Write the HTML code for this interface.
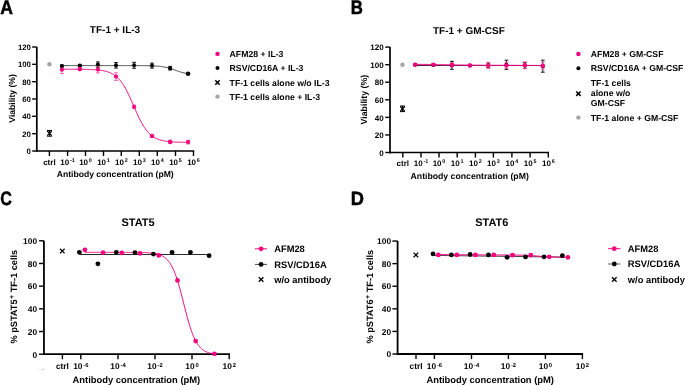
<!DOCTYPE html>
<html><head><meta charset="utf-8"><style>
html,body{margin:0;padding:0;background:#fff;}
body{width:685px;height:385px;overflow:hidden;}
svg{display:block;will-change:transform;}
text{font-family:'Liberation Sans',sans-serif;font-weight:bold;fill:#000;text-rendering:geometricPrecision;}
</style></head><body>
<svg width="685" height="385" viewBox="0 0 685 385">
<rect width="685" height="385" fill="#fff"/>
<text x="0" y="0" font-size="19.5" transform="translate(0.2,13.5) scale(0.9,1)" stroke="#000" stroke-width="0.5">A</text>
<text x="115.00" y="33.30" font-size="10" text-anchor="middle" >TF-1 + IL-3</text>
<line x1="36.80" y1="46.90" x2="36.80" y2="151.85" stroke="#000" stroke-width="1.7" />
<line x1="35.95" y1="151.00" x2="194.20" y2="151.00" stroke="#000" stroke-width="1.7" />
<line x1="32.15" y1="151.00" x2="36.80" y2="151.00" stroke="#000" stroke-width="1.4" />
<text x="30.95" y="154.29" font-size="7.8" text-anchor="end" >0</text>
<line x1="32.15" y1="133.67" x2="36.80" y2="133.67" stroke="#000" stroke-width="1.4" />
<text x="30.95" y="136.88" font-size="7.8" text-anchor="end" >20</text>
<line x1="32.15" y1="116.33" x2="36.80" y2="116.33" stroke="#000" stroke-width="1.4" />
<text x="30.95" y="119.46" font-size="7.8" text-anchor="end" >40</text>
<line x1="32.15" y1="99.00" x2="36.80" y2="99.00" stroke="#000" stroke-width="1.4" />
<text x="30.95" y="102.04" font-size="7.8" text-anchor="end" >60</text>
<line x1="32.15" y1="81.67" x2="36.80" y2="81.67" stroke="#000" stroke-width="1.4" />
<text x="30.95" y="84.63" font-size="7.8" text-anchor="end" >80</text>
<line x1="32.15" y1="64.33" x2="36.80" y2="64.33" stroke="#000" stroke-width="1.4" />
<text x="30.95" y="67.21" font-size="7.8" text-anchor="end" >100</text>
<line x1="32.15" y1="47.00" x2="36.80" y2="47.00" stroke="#000" stroke-width="1.4" />
<text x="30.95" y="49.79" font-size="7.8" text-anchor="end" >120</text>
<line x1="49.40" y1="151.00" x2="49.40" y2="156.05" stroke="#000" stroke-width="1.4" />
<text x="49.40" y="164.60" font-size="8.0" text-anchor="middle" >ctrl</text>
<line x1="67.60" y1="151.00" x2="67.60" y2="156.05" stroke="#000" stroke-width="1.4" />
<text x="67.60" y="164.60" font-size="8.0" text-anchor="middle">10<tspan font-size="5.4" dx="0.8" dy="-2.56">-1</tspan></text>
<line x1="85.50" y1="151.00" x2="85.50" y2="156.05" stroke="#000" stroke-width="1.4" />
<text x="85.50" y="164.60" font-size="8.0" text-anchor="middle">10<tspan font-size="5.4" dx="0.8" dy="-2.56">0</tspan></text>
<line x1="103.50" y1="151.00" x2="103.50" y2="156.05" stroke="#000" stroke-width="1.4" />
<text x="103.50" y="164.60" font-size="8.0" text-anchor="middle">10<tspan font-size="5.4" dx="0.8" dy="-2.56">1</tspan></text>
<line x1="121.30" y1="151.00" x2="121.30" y2="156.05" stroke="#000" stroke-width="1.4" />
<text x="121.30" y="164.60" font-size="8.0" text-anchor="middle">10<tspan font-size="5.4" dx="0.8" dy="-2.56">2</tspan></text>
<line x1="139.30" y1="151.00" x2="139.30" y2="156.05" stroke="#000" stroke-width="1.4" />
<text x="139.30" y="164.60" font-size="8.0" text-anchor="middle">10<tspan font-size="5.4" dx="0.8" dy="-2.56">3</tspan></text>
<line x1="157.30" y1="151.00" x2="157.30" y2="156.05" stroke="#000" stroke-width="1.4" />
<text x="157.30" y="164.60" font-size="8.0" text-anchor="middle">10<tspan font-size="5.4" dx="0.8" dy="-2.56">4</tspan></text>
<line x1="175.50" y1="151.00" x2="175.50" y2="156.05" stroke="#000" stroke-width="1.4" />
<text x="175.50" y="164.60" font-size="8.0" text-anchor="middle">10<tspan font-size="5.4" dx="0.8" dy="-2.56">5</tspan></text>
<line x1="193.50" y1="151.00" x2="193.50" y2="156.05" stroke="#000" stroke-width="1.4" />
<text x="193.50" y="164.60" font-size="8.0" text-anchor="middle">10<tspan font-size="5.4" dx="0.8" dy="-2.56">6</tspan></text>
<text x="0" y="0" font-size="8.6" text-anchor="middle" transform="translate(15.3,98.4) rotate(-90)">Viability (%)</text>
<text x="115.20" y="176.78" font-size="8.6" text-anchor="middle" >Antibody concentration (pM)</text>
<path d="M61.90,65.60 L62.96,65.60 L64.02,65.60 L65.08,65.60 L66.14,65.60 L67.20,65.60 L68.26,65.60 L69.32,65.60 L70.38,65.60 L71.44,65.60 L72.51,65.60 L73.57,65.60 L74.63,65.60 L75.69,65.60 L76.75,65.60 L77.81,65.60 L78.87,65.60 L79.93,65.60 L80.99,65.60 L82.05,65.60 L83.11,65.60 L84.17,65.60 L85.23,65.60 L86.29,65.60 L87.35,65.60 L88.41,65.60 L89.47,65.60 L90.53,65.60 L91.59,65.60 L92.65,65.60 L93.72,65.60 L94.78,65.60 L95.84,65.60 L96.90,65.60 L97.96,65.60 L99.02,65.60 L100.08,65.60 L101.14,65.60 L102.20,65.60 L103.26,65.60 L104.32,65.60 L105.38,65.60 L106.44,65.60 L107.50,65.60 L108.56,65.60 L109.62,65.60 L110.68,65.60 L111.74,65.60 L112.80,65.60 L113.86,65.60 L114.93,65.60 L115.99,65.60 L117.05,65.60 L118.11,65.60 L119.17,65.60 L120.23,65.60 L121.29,65.60 L122.35,65.60 L123.41,65.60 L124.47,65.60 L125.53,65.60 L126.59,65.61 L127.65,65.61 L128.71,65.61 L129.77,65.61 L130.83,65.61 L131.89,65.61 L132.95,65.61 L134.01,65.62 L135.07,65.62 L136.14,65.62 L137.20,65.63 L138.26,65.63 L139.32,65.64 L140.38,65.64 L141.44,65.65 L142.50,65.66 L143.56,65.67 L144.62,65.68 L145.68,65.70 L146.74,65.71 L147.80,65.73 L148.86,65.76 L149.92,65.78 L150.98,65.82 L152.04,65.85 L153.10,65.90 L154.16,65.95 L155.22,66.00 L156.28,66.07 L157.35,66.15 L158.41,66.24 L159.47,66.34 L160.53,66.46 L161.59,66.60 L162.65,66.75 L163.71,66.93 L164.77,67.12 L165.83,67.34 L166.89,67.58 L167.95,67.84 L169.01,68.13 L170.07,68.44 L171.13,68.77 L172.19,69.12 L173.25,69.48 L174.31,69.85 L175.37,70.22 L176.43,70.60 L177.49,70.97 L178.56,71.33 L179.62,71.68 L180.68,72.01 L181.74,72.33 L182.80,72.62 L183.86,72.88 L184.92,73.13 L185.98,73.35 L187.04,73.55 L188.10,73.72" stroke="#333" stroke-width="0.9" fill="none" />
<path d="M61.90,69.21 L62.69,69.21 L63.49,69.21 L64.28,69.21 L65.07,69.21 L65.87,69.21 L66.66,69.22 L67.46,69.22 L68.25,69.22 L69.04,69.22 L69.84,69.22 L70.63,69.23 L71.42,69.23 L72.22,69.23 L73.01,69.23 L73.81,69.24 L74.60,69.24 L75.39,69.25 L76.19,69.25 L76.98,69.26 L77.77,69.26 L78.57,69.27 L79.36,69.28 L80.16,69.29 L80.95,69.29 L81.74,69.30 L82.54,69.31 L83.33,69.33 L84.12,69.34 L84.92,69.36 L85.71,69.37 L86.51,69.39 L87.30,69.41 L88.09,69.43 L88.89,69.46 L89.68,69.48 L90.47,69.51 L91.27,69.55 L92.06,69.58 L92.85,69.62 L93.65,69.67 L94.44,69.71 L95.24,69.77 L96.03,69.83 L96.82,69.89 L97.62,69.97 L98.41,70.05 L99.20,70.13 L100.00,70.23 L100.79,70.34 L101.59,70.46 L102.38,70.59 L103.17,70.73 L103.97,70.89 L104.76,71.06 L105.55,71.25 L106.35,71.46 L107.14,71.69 L107.94,71.94 L108.73,72.22 L109.52,72.52 L110.32,72.86 L111.11,73.22 L111.90,73.62 L112.70,74.06 L113.49,74.53 L114.28,75.05 L115.08,75.61 L115.87,76.22 L116.67,76.89 L117.46,77.60 L118.25,78.38 L119.05,79.22 L119.84,80.11 L120.63,81.08 L121.43,82.11 L122.22,83.21 L123.02,84.38 L123.81,85.63 L124.60,86.94 L125.40,88.32 L126.19,89.77 L126.98,91.29 L127.78,92.86 L128.57,94.50 L129.37,96.18 L130.16,97.91 L130.95,99.68 L131.75,101.48 L132.54,103.30 L133.33,105.13 L134.13,106.97 L134.92,108.80 L135.72,110.61 L136.51,112.40 L137.30,114.16 L138.10,115.88 L138.89,117.55 L139.68,119.17 L140.48,120.73 L141.27,122.23 L142.06,123.67 L142.86,125.03 L143.65,126.33 L144.45,127.55 L145.24,128.70 L146.03,129.79 L146.83,130.80 L147.62,131.75 L148.41,132.63 L149.21,133.45 L150.00,134.21 L150.80,134.92 L151.59,135.57 L152.38,136.17 L153.18,136.72 L153.97,137.22 L154.76,137.69 L155.56,138.11 L156.35,138.50 L157.15,138.86 L157.94,139.19 L158.73,139.48 L159.53,139.75 L160.32,140.00 L161.11,140.23 L161.91,140.43 L162.70,140.62 L163.49,140.79 L164.29,140.94 L165.08,141.08 L165.88,141.21 L166.67,141.32 L167.46,141.42 L168.26,141.52 L169.05,141.61 L169.84,141.68 L170.64,141.75 L171.43,141.82 L172.23,141.88 L173.02,141.93 L173.81,141.98 L174.61,142.02 L175.40,142.06 L176.19,142.09 L176.99,142.13 L177.78,142.15 L178.58,142.18 L179.37,142.20 L180.16,142.23 L180.96,142.25 L181.75,142.26 L182.54,142.28 L183.34,142.29 L184.13,142.31 L184.93,142.32 L185.72,142.33 L186.51,142.34 L187.31,142.35 L188.10,142.35" stroke="#f2057f" stroke-width="1.0" fill="none" />
<line x1="61.90" y1="65.00" x2="61.90" y2="67.00" stroke="#000" stroke-width="0.9" />
<line x1="60.00" y1="65.00" x2="63.80" y2="65.00" stroke="#000" stroke-width="0.9" />
<line x1="60.00" y1="67.00" x2="63.80" y2="67.00" stroke="#000" stroke-width="0.9" />
<line x1="79.80" y1="64.60" x2="79.80" y2="66.60" stroke="#000" stroke-width="0.9" />
<line x1="77.90" y1="64.60" x2="81.70" y2="64.60" stroke="#000" stroke-width="0.9" />
<line x1="77.90" y1="66.60" x2="81.70" y2="66.60" stroke="#000" stroke-width="0.9" />
<line x1="97.90" y1="61.90" x2="97.90" y2="67.30" stroke="#000" stroke-width="0.9" />
<line x1="96.00" y1="61.90" x2="99.80" y2="61.90" stroke="#000" stroke-width="0.9" />
<line x1="96.00" y1="67.30" x2="99.80" y2="67.30" stroke="#000" stroke-width="0.9" />
<line x1="116.00" y1="62.50" x2="116.00" y2="68.10" stroke="#000" stroke-width="0.9" />
<line x1="114.10" y1="62.50" x2="117.90" y2="62.50" stroke="#000" stroke-width="0.9" />
<line x1="114.10" y1="68.10" x2="117.90" y2="68.10" stroke="#000" stroke-width="0.9" />
<line x1="134.10" y1="62.30" x2="134.10" y2="68.30" stroke="#000" stroke-width="0.9" />
<line x1="132.20" y1="62.30" x2="136.00" y2="62.30" stroke="#000" stroke-width="0.9" />
<line x1="132.20" y1="68.30" x2="136.00" y2="68.30" stroke="#000" stroke-width="0.9" />
<line x1="152.00" y1="63.10" x2="152.00" y2="68.10" stroke="#000" stroke-width="0.9" />
<line x1="150.10" y1="63.10" x2="153.90" y2="63.10" stroke="#000" stroke-width="0.9" />
<line x1="150.10" y1="68.10" x2="153.90" y2="68.10" stroke="#000" stroke-width="0.9" />
<line x1="170.10" y1="66.40" x2="170.10" y2="70.00" stroke="#000" stroke-width="0.9" />
<line x1="168.20" y1="66.40" x2="172.00" y2="66.40" stroke="#000" stroke-width="0.9" />
<line x1="168.20" y1="70.00" x2="172.00" y2="70.00" stroke="#000" stroke-width="0.9" />
<line x1="61.90" y1="65.80" x2="61.90" y2="73.60" stroke="#f5559c" stroke-width="0.9" />
<line x1="60.00" y1="65.80" x2="63.80" y2="65.80" stroke="#f5559c" stroke-width="0.9" />
<line x1="60.00" y1="73.60" x2="63.80" y2="73.60" stroke="#f5559c" stroke-width="0.9" />
<line x1="97.90" y1="66.10" x2="97.90" y2="72.90" stroke="#f5559c" stroke-width="0.9" />
<line x1="96.00" y1="66.10" x2="99.80" y2="66.10" stroke="#f5559c" stroke-width="0.9" />
<line x1="96.00" y1="72.90" x2="99.80" y2="72.90" stroke="#f5559c" stroke-width="0.9" />
<line x1="116.00" y1="72.80" x2="116.00" y2="80.40" stroke="#f5559c" stroke-width="0.9" />
<line x1="114.10" y1="72.80" x2="117.90" y2="72.80" stroke="#f5559c" stroke-width="0.9" />
<line x1="114.10" y1="80.40" x2="117.90" y2="80.40" stroke="#f5559c" stroke-width="0.9" />
<line x1="134.10" y1="105.00" x2="134.10" y2="108.60" stroke="#f5559c" stroke-width="0.9" />
<line x1="132.20" y1="105.00" x2="136.00" y2="105.00" stroke="#f5559c" stroke-width="0.9" />
<line x1="132.20" y1="108.60" x2="136.00" y2="108.60" stroke="#f5559c" stroke-width="0.9" />
<line x1="188.10" y1="140.30" x2="188.10" y2="143.90" stroke="#f5559c" stroke-width="0.9" />
<line x1="186.20" y1="140.30" x2="190.00" y2="140.30" stroke="#f5559c" stroke-width="0.9" />
<line x1="186.20" y1="143.90" x2="190.00" y2="143.90" stroke="#f5559c" stroke-width="0.9" />
<circle cx="61.90" cy="66.00" r="2.0" fill="#000"/>
<circle cx="79.80" cy="65.60" r="2.0" fill="#000"/>
<circle cx="97.90" cy="64.60" r="2.0" fill="#000"/>
<circle cx="116.00" cy="65.30" r="2.0" fill="#000"/>
<circle cx="134.10" cy="65.30" r="2.0" fill="#000"/>
<circle cx="152.00" cy="65.60" r="2.0" fill="#000"/>
<circle cx="170.10" cy="68.20" r="2.0" fill="#000"/>
<circle cx="188.10" cy="73.80" r="2.3" fill="#000"/>
<circle cx="61.90" cy="69.70" r="2.1" fill="#f2057f"/>
<circle cx="79.80" cy="69.10" r="2.3" fill="#f2057f"/>
<circle cx="97.90" cy="69.50" r="2.1" fill="#f2057f"/>
<circle cx="116.00" cy="76.60" r="2.1" fill="#f2057f"/>
<circle cx="134.10" cy="106.80" r="2.1" fill="#f2057f"/>
<circle cx="152.00" cy="136.00" r="2.3" fill="#f2057f"/>
<circle cx="170.10" cy="141.90" r="2.3" fill="#f2057f"/>
<circle cx="188.10" cy="142.10" r="2.1" fill="#f2057f"/>
<circle cx="49.40" cy="64.20" r="2.2" fill="#a3a3a8"/>
<line x1="47.20" y1="131.00" x2="51.80" y2="135.60" stroke="#000" stroke-width="1.2" />
<line x1="47.20" y1="135.60" x2="51.80" y2="131.00" stroke="#000" stroke-width="1.2" />
<line x1="49.50" y1="130.50" x2="49.50" y2="136.20" stroke="#000" stroke-width="1.0" />
<line x1="47.00" y1="130.50" x2="52.00" y2="130.50" stroke="#000" stroke-width="1.0" />
<line x1="47.00" y1="136.20" x2="52.00" y2="136.20" stroke="#000" stroke-width="1.0" />
<circle cx="217.50" cy="53.90" r="2.2" fill="#f2057f"/>
<circle cx="217.50" cy="68.00" r="2.0" fill="#000"/>
<line x1="215.30" y1="80.30" x2="219.70" y2="84.70" stroke="#000" stroke-width="1.5" />
<line x1="215.30" y1="84.70" x2="219.70" y2="80.30" stroke="#000" stroke-width="1.5" />
<circle cx="217.50" cy="96.60" r="2.2" fill="#a3a3a8"/>
<text x="229.60" y="57.01" font-size="8.7" text-anchor="start" >AFM28 + IL-3</text>
<text x="229.60" y="71.11" font-size="8.7" text-anchor="start" >RSV/CD16A + IL-3</text>
<text x="229.60" y="85.61" font-size="8.7" text-anchor="start" >TF-1 cells alone w/o IL-3</text>
<text x="229.60" y="99.71" font-size="8.7" text-anchor="start" >TF-1 cells alone + IL-3</text>
<text x="0" y="0" font-size="19.5" transform="translate(350.8,13.5) scale(0.86,1)" stroke="#000" stroke-width="0.5">B</text>
<text x="468.90" y="33.70" font-size="10" text-anchor="middle" >TF-1 + GM-CSF</text>
<line x1="390.00" y1="47.00" x2="390.00" y2="153.35" stroke="#000" stroke-width="1.7" />
<line x1="389.15" y1="152.50" x2="549.00" y2="152.50" stroke="#000" stroke-width="1.7" />
<line x1="385.25" y1="152.50" x2="390.00" y2="152.50" stroke="#000" stroke-width="1.4" />
<text x="383.65" y="155.86" font-size="8.0" text-anchor="end" >0</text>
<line x1="385.25" y1="134.93" x2="390.00" y2="134.93" stroke="#000" stroke-width="1.4" />
<text x="383.65" y="138.21" font-size="8.0" text-anchor="end" >20</text>
<line x1="385.25" y1="117.37" x2="390.00" y2="117.37" stroke="#000" stroke-width="1.4" />
<text x="383.65" y="120.56" font-size="8.0" text-anchor="end" >40</text>
<line x1="385.25" y1="99.80" x2="390.00" y2="99.80" stroke="#000" stroke-width="1.4" />
<text x="383.65" y="102.91" font-size="8.0" text-anchor="end" >60</text>
<line x1="385.25" y1="82.23" x2="390.00" y2="82.23" stroke="#000" stroke-width="1.4" />
<text x="383.65" y="85.26" font-size="8.0" text-anchor="end" >80</text>
<line x1="385.25" y1="64.67" x2="390.00" y2="64.67" stroke="#000" stroke-width="1.4" />
<text x="383.65" y="67.61" font-size="8.0" text-anchor="end" >100</text>
<line x1="385.25" y1="47.10" x2="390.00" y2="47.10" stroke="#000" stroke-width="1.4" />
<text x="383.65" y="49.96" font-size="8.0" text-anchor="end" >120</text>
<line x1="402.80" y1="152.50" x2="402.80" y2="157.55" stroke="#000" stroke-width="1.4" />
<text x="402.80" y="165.80" font-size="8.0" text-anchor="middle" >ctrl</text>
<line x1="421.00" y1="152.50" x2="421.00" y2="157.55" stroke="#000" stroke-width="1.4" />
<text x="421.00" y="165.80" font-size="8.0" text-anchor="middle">10<tspan font-size="5.4" dx="0.8" dy="-2.56">-1</tspan></text>
<line x1="439.00" y1="152.50" x2="439.00" y2="157.55" stroke="#000" stroke-width="1.4" />
<text x="439.00" y="165.80" font-size="8.0" text-anchor="middle">10<tspan font-size="5.4" dx="0.8" dy="-2.56">0</tspan></text>
<line x1="457.20" y1="152.50" x2="457.20" y2="157.55" stroke="#000" stroke-width="1.4" />
<text x="457.20" y="165.80" font-size="8.0" text-anchor="middle">10<tspan font-size="5.4" dx="0.8" dy="-2.56">1</tspan></text>
<line x1="475.40" y1="152.50" x2="475.40" y2="157.55" stroke="#000" stroke-width="1.4" />
<text x="475.40" y="165.80" font-size="8.0" text-anchor="middle">10<tspan font-size="5.4" dx="0.8" dy="-2.56">2</tspan></text>
<line x1="493.40" y1="152.50" x2="493.40" y2="157.55" stroke="#000" stroke-width="1.4" />
<text x="493.40" y="165.80" font-size="8.0" text-anchor="middle">10<tspan font-size="5.4" dx="0.8" dy="-2.56">3</tspan></text>
<line x1="511.90" y1="152.50" x2="511.90" y2="157.55" stroke="#000" stroke-width="1.4" />
<text x="511.90" y="165.80" font-size="8.0" text-anchor="middle">10<tspan font-size="5.4" dx="0.8" dy="-2.56">4</tspan></text>
<line x1="530.10" y1="152.50" x2="530.10" y2="157.55" stroke="#000" stroke-width="1.4" />
<text x="530.10" y="165.80" font-size="8.0" text-anchor="middle">10<tspan font-size="5.4" dx="0.8" dy="-2.56">5</tspan></text>
<line x1="548.30" y1="152.50" x2="548.30" y2="157.55" stroke="#000" stroke-width="1.4" />
<text x="548.30" y="165.80" font-size="8.0" text-anchor="middle">10<tspan font-size="5.4" dx="0.8" dy="-2.56">6</tspan></text>
<text x="0" y="0" font-size="8.8" text-anchor="middle" transform="translate(367.4,99.6) rotate(-90)">Viability (%)</text>
<text x="469.70" y="179.31" font-size="8.7" text-anchor="middle" >Antibody concentration (pM)</text>
<path d="M415.1,65.5 L542.8,65.5" stroke="#333" stroke-width="1.0" fill="none" />
<path d="M415.1,64.4 C440,64.6 460,65.2 485,65.35 L542.8,65.45" stroke="#f2057f" stroke-width="1.1" fill="none" stroke-opacity="0.85"/>
<line x1="415.10" y1="64.30" x2="415.10" y2="65.30" stroke="#000" stroke-width="0.9" />
<line x1="413.20" y1="64.30" x2="417.00" y2="64.30" stroke="#000" stroke-width="0.9" />
<line x1="413.20" y1="65.30" x2="417.00" y2="65.30" stroke="#000" stroke-width="0.9" />
<line x1="433.40" y1="64.20" x2="433.40" y2="65.80" stroke="#000" stroke-width="0.9" />
<line x1="431.50" y1="64.20" x2="435.30" y2="64.20" stroke="#000" stroke-width="0.9" />
<line x1="431.50" y1="65.80" x2="435.30" y2="65.80" stroke="#000" stroke-width="0.9" />
<line x1="451.90" y1="61.30" x2="451.90" y2="69.30" stroke="#000" stroke-width="0.9" />
<line x1="450.00" y1="61.30" x2="453.80" y2="61.30" stroke="#000" stroke-width="0.9" />
<line x1="450.00" y1="69.30" x2="453.80" y2="69.30" stroke="#000" stroke-width="0.9" />
<line x1="469.90" y1="64.60" x2="469.90" y2="66.20" stroke="#000" stroke-width="0.9" />
<line x1="468.00" y1="64.60" x2="471.80" y2="64.60" stroke="#000" stroke-width="0.9" />
<line x1="468.00" y1="66.20" x2="471.80" y2="66.20" stroke="#000" stroke-width="0.9" />
<line x1="488.30" y1="62.80" x2="488.30" y2="67.80" stroke="#000" stroke-width="0.9" />
<line x1="486.40" y1="62.80" x2="490.20" y2="62.80" stroke="#000" stroke-width="0.9" />
<line x1="486.40" y1="67.80" x2="490.20" y2="67.80" stroke="#000" stroke-width="0.9" />
<line x1="506.40" y1="60.20" x2="506.40" y2="69.40" stroke="#000" stroke-width="0.9" />
<line x1="504.50" y1="60.20" x2="508.30" y2="60.20" stroke="#000" stroke-width="0.9" />
<line x1="504.50" y1="69.40" x2="508.30" y2="69.40" stroke="#000" stroke-width="0.9" />
<line x1="524.80" y1="62.60" x2="524.80" y2="68.60" stroke="#000" stroke-width="0.9" />
<line x1="522.90" y1="62.60" x2="526.70" y2="62.60" stroke="#000" stroke-width="0.9" />
<line x1="522.90" y1="68.60" x2="526.70" y2="68.60" stroke="#000" stroke-width="0.9" />
<line x1="542.80" y1="60.20" x2="542.80" y2="72.20" stroke="#000" stroke-width="0.9" />
<line x1="540.90" y1="60.20" x2="544.70" y2="60.20" stroke="#000" stroke-width="0.9" />
<line x1="540.90" y1="72.20" x2="544.70" y2="72.20" stroke="#000" stroke-width="0.9" />
<line x1="415.10" y1="64.10" x2="415.10" y2="65.10" stroke="#f5559c" stroke-width="0.9" />
<line x1="413.20" y1="64.10" x2="417.00" y2="64.10" stroke="#f5559c" stroke-width="0.9" />
<line x1="413.20" y1="65.10" x2="417.00" y2="65.10" stroke="#f5559c" stroke-width="0.9" />
<line x1="433.40" y1="63.60" x2="433.40" y2="65.60" stroke="#f5559c" stroke-width="0.9" />
<line x1="431.50" y1="63.60" x2="435.30" y2="63.60" stroke="#f5559c" stroke-width="0.9" />
<line x1="431.50" y1="65.60" x2="435.30" y2="65.60" stroke="#f5559c" stroke-width="0.9" />
<line x1="451.90" y1="62.80" x2="451.90" y2="66.80" stroke="#f5559c" stroke-width="0.9" />
<line x1="450.00" y1="62.80" x2="453.80" y2="62.80" stroke="#f5559c" stroke-width="0.9" />
<line x1="450.00" y1="66.80" x2="453.80" y2="66.80" stroke="#f5559c" stroke-width="0.9" />
<line x1="469.90" y1="64.90" x2="469.90" y2="65.90" stroke="#f5559c" stroke-width="0.9" />
<line x1="468.00" y1="64.90" x2="471.80" y2="64.90" stroke="#f5559c" stroke-width="0.9" />
<line x1="468.00" y1="65.90" x2="471.80" y2="65.90" stroke="#f5559c" stroke-width="0.9" />
<line x1="488.30" y1="62.40" x2="488.30" y2="68.40" stroke="#f5559c" stroke-width="0.9" />
<line x1="486.40" y1="62.40" x2="490.20" y2="62.40" stroke="#f5559c" stroke-width="0.9" />
<line x1="486.40" y1="68.40" x2="490.20" y2="68.40" stroke="#f5559c" stroke-width="0.9" />
<line x1="506.40" y1="62.40" x2="506.40" y2="68.40" stroke="#f5559c" stroke-width="0.9" />
<line x1="504.50" y1="62.40" x2="508.30" y2="62.40" stroke="#f5559c" stroke-width="0.9" />
<line x1="504.50" y1="68.40" x2="508.30" y2="68.40" stroke="#f5559c" stroke-width="0.9" />
<line x1="524.80" y1="61.80" x2="524.80" y2="68.60" stroke="#f5559c" stroke-width="0.9" />
<line x1="522.90" y1="61.80" x2="526.70" y2="61.80" stroke="#f5559c" stroke-width="0.9" />
<line x1="522.90" y1="68.60" x2="526.70" y2="68.60" stroke="#f5559c" stroke-width="0.9" />
<line x1="542.80" y1="62.30" x2="542.80" y2="69.30" stroke="#f5559c" stroke-width="0.9" />
<line x1="540.90" y1="62.30" x2="544.70" y2="62.30" stroke="#f5559c" stroke-width="0.9" />
<line x1="540.90" y1="69.30" x2="544.70" y2="69.30" stroke="#f5559c" stroke-width="0.9" />
<circle cx="415.10" cy="64.80" r="2.0" fill="#000"/>
<circle cx="433.40" cy="65.00" r="2.0" fill="#000"/>
<circle cx="451.90" cy="65.30" r="2.0" fill="#000"/>
<circle cx="469.90" cy="65.40" r="2.0" fill="#000"/>
<circle cx="488.30" cy="65.30" r="2.0" fill="#000"/>
<circle cx="506.40" cy="64.80" r="2.0" fill="#000"/>
<circle cx="524.80" cy="65.60" r="2.0" fill="#000"/>
<circle cx="542.80" cy="66.20" r="2.0" fill="#000"/>
<circle cx="415.10" cy="64.60" r="2.2" fill="#f2057f"/>
<circle cx="433.40" cy="64.60" r="2.2" fill="#f2057f"/>
<circle cx="451.90" cy="64.80" r="2.2" fill="#f2057f"/>
<circle cx="469.90" cy="65.40" r="2.2" fill="#f2057f"/>
<circle cx="488.30" cy="65.40" r="2.2" fill="#f2057f"/>
<circle cx="506.40" cy="65.40" r="2.2" fill="#f2057f"/>
<circle cx="524.80" cy="65.20" r="2.2" fill="#f2057f"/>
<circle cx="542.80" cy="65.80" r="2.2" fill="#f2057f"/>
<circle cx="402.50" cy="64.80" r="2.2" fill="#a3a3a8"/>
<line x1="400.20" y1="106.50" x2="404.80" y2="111.10" stroke="#000" stroke-width="1.2" />
<line x1="400.20" y1="111.10" x2="404.80" y2="106.50" stroke="#000" stroke-width="1.2" />
<line x1="402.50" y1="106.00" x2="402.50" y2="111.60" stroke="#000" stroke-width="1.0" />
<line x1="400.00" y1="106.00" x2="405.00" y2="106.00" stroke="#000" stroke-width="1.0" />
<line x1="400.00" y1="111.60" x2="405.00" y2="111.60" stroke="#000" stroke-width="1.0" />
<circle cx="578.40" cy="54.00" r="2.2" fill="#f2057f"/>
<circle cx="578.40" cy="68.30" r="2.0" fill="#000"/>
<line x1="576.20" y1="91.50" x2="580.60" y2="95.90" stroke="#000" stroke-width="1.5" />
<line x1="576.20" y1="95.90" x2="580.60" y2="91.50" stroke="#000" stroke-width="1.5" />
<circle cx="578.40" cy="117.60" r="2.2" fill="#a3a3a8"/>
<text x="590.80" y="57.11" font-size="8.7" text-anchor="start" >AFM28 + GM-CSF</text>
<text x="590.80" y="71.41" font-size="8.7" text-anchor="start" >RSV/CD16A + GM-CSF</text>
<text x="590.80" y="86.21" font-size="8.7" text-anchor="start" >TF-1 cells</text>
<text x="590.80" y="96.41" font-size="8.7" text-anchor="start" >alone w/o</text>
<text x="590.80" y="106.01" font-size="8.7" text-anchor="start" >GM-CSF</text>
<text x="590.80" y="120.81" font-size="8.7" text-anchor="start" >TF-1 alone + GM-CSF</text>
<text x="0" y="0" font-size="19.2" transform="translate(0.3,205.1) scale(0.84,1)" stroke="#000" stroke-width="0.5">C</text>
<text x="138.00" y="226.20" font-size="11" text-anchor="middle" >STAT5</text>
<line x1="43.95" y1="240.65" x2="43.95" y2="355.10" stroke="#000" stroke-width="1.8" />
<line x1="43.05" y1="354.20" x2="229.90" y2="354.20" stroke="#000" stroke-width="1.8" />
<line x1="39.05" y1="354.20" x2="43.95" y2="354.20" stroke="#000" stroke-width="1.4" />
<text x="37.05" y="357.51" font-size="8.4" text-anchor="end" >0</text>
<line x1="39.05" y1="331.52" x2="43.95" y2="331.52" stroke="#000" stroke-width="1.4" />
<text x="37.05" y="334.77" font-size="8.4" text-anchor="end" >20</text>
<line x1="39.05" y1="308.84" x2="43.95" y2="308.84" stroke="#000" stroke-width="1.4" />
<text x="37.05" y="312.03" font-size="8.4" text-anchor="end" >40</text>
<line x1="39.05" y1="286.16" x2="43.95" y2="286.16" stroke="#000" stroke-width="1.4" />
<text x="37.05" y="289.29" font-size="8.4" text-anchor="end" >60</text>
<line x1="39.05" y1="263.48" x2="43.95" y2="263.48" stroke="#000" stroke-width="1.4" />
<text x="37.05" y="266.55" font-size="8.4" text-anchor="end" >80</text>
<line x1="39.05" y1="240.80" x2="43.95" y2="240.80" stroke="#000" stroke-width="1.4" />
<text x="37.05" y="243.81" font-size="8.4" text-anchor="end" >100</text>
<line x1="62.40" y1="354.20" x2="62.40" y2="359.30" stroke="#000" stroke-width="1.4" />
<text x="62.40" y="369.10" font-size="8.4" text-anchor="middle" >ctrl</text>
<line x1="80.80" y1="354.20" x2="80.80" y2="359.30" stroke="#000" stroke-width="1.4" />
<text x="80.80" y="369.10" font-size="8.4" text-anchor="middle">10<tspan font-size="5.8" dx="0.8" dy="-1.76">-6</tspan></text>
<line x1="118.00" y1="354.20" x2="118.00" y2="359.30" stroke="#000" stroke-width="1.4" />
<text x="118.00" y="369.10" font-size="8.4" text-anchor="middle">10<tspan font-size="5.8" dx="0.8" dy="-1.76">-4</tspan></text>
<line x1="155.00" y1="354.20" x2="155.00" y2="359.30" stroke="#000" stroke-width="1.4" />
<text x="155.00" y="369.10" font-size="8.4" text-anchor="middle">10<tspan font-size="5.8" dx="0.8" dy="-1.76">-2</tspan></text>
<line x1="192.00" y1="354.20" x2="192.00" y2="359.30" stroke="#000" stroke-width="1.4" />
<text x="192.00" y="369.10" font-size="8.4" text-anchor="middle">10<tspan font-size="5.8" dx="0.8" dy="-1.76">0</tspan></text>
<line x1="229.20" y1="354.20" x2="229.20" y2="359.30" stroke="#000" stroke-width="1.4" />
<text x="229.20" y="369.10" font-size="8.4" text-anchor="middle">10<tspan font-size="5.8" dx="0.8" dy="-1.76">2</tspan></text>
<text x="0" y="0" font-size="9.2" text-anchor="middle" transform="translate(16.7,296.7) rotate(-90)">% pSTAT5<tspan font-size="7.0" dx="0.4" dy="-3.0">+</tspan><tspan dx="0.2" dy="3.0"> TF-1 cells</tspan></text>
<text x="136.40" y="382.67" font-size="9.4" text-anchor="middle" >Antibody concentration (pM)</text>
<path d="M79.4,254.5 L209.1,254.5" stroke="#2a2a2a" stroke-width="1.0" fill="none" />
<path d="M84.90,252.34 L85.55,252.34 L86.20,252.34 L86.85,252.34 L87.50,252.34 L88.15,252.34 L88.80,252.34 L89.46,252.34 L90.11,252.34 L90.76,252.34 L91.41,252.34 L92.06,252.34 L92.71,252.34 L93.36,252.34 L94.01,252.34 L94.66,252.34 L95.31,252.34 L95.96,252.34 L96.61,252.34 L97.26,252.34 L97.92,252.34 L98.57,252.34 L99.22,252.34 L99.87,252.34 L100.52,252.34 L101.17,252.34 L101.82,252.34 L102.47,252.34 L103.12,252.34 L103.77,252.34 L104.42,252.34 L105.07,252.34 L105.72,252.34 L106.37,252.34 L107.03,252.34 L107.68,252.34 L108.33,252.34 L108.98,252.34 L109.63,252.34 L110.28,252.34 L110.93,252.34 L111.58,252.34 L112.23,252.34 L112.88,252.34 L113.53,252.34 L114.18,252.34 L114.83,252.34 L115.49,252.34 L116.14,252.34 L116.79,252.34 L117.44,252.34 L118.09,252.34 L118.74,252.34 L119.39,252.34 L120.04,252.35 L120.69,252.35 L121.34,252.35 L121.99,252.35 L122.64,252.35 L123.29,252.35 L123.95,252.35 L124.60,252.35 L125.25,252.35 L125.90,252.35 L126.55,252.35 L127.20,252.36 L127.85,252.36 L128.50,252.36 L129.15,252.36 L129.80,252.36 L130.45,252.37 L131.10,252.37 L131.75,252.37 L132.41,252.38 L133.06,252.38 L133.71,252.38 L134.36,252.39 L135.01,252.39 L135.66,252.40 L136.31,252.41 L136.96,252.41 L137.61,252.42 L138.26,252.43 L138.91,252.44 L139.56,252.45 L140.21,252.46 L140.86,252.48 L141.52,252.49 L142.17,252.51 L142.82,252.52 L143.47,252.54 L144.12,252.56 L144.77,252.59 L145.42,252.61 L146.07,252.64 L146.72,252.67 L147.37,252.71 L148.02,252.75 L148.67,252.79 L149.32,252.84 L149.98,252.89 L150.63,252.95 L151.28,253.01 L151.93,253.08 L152.58,253.16 L153.23,253.25 L153.88,253.34 L154.53,253.45 L155.18,253.56 L155.83,253.69 L156.48,253.83 L157.13,253.99 L157.78,254.16 L158.44,254.35 L159.09,254.56 L159.74,254.79 L160.39,255.04 L161.04,255.32 L161.69,255.62 L162.34,255.96 L162.99,256.32 L163.64,256.73 L164.29,257.17 L164.94,257.65 L165.59,258.18 L166.24,258.76 L166.89,259.40 L167.55,260.09 L168.20,260.84 L168.85,261.66 L169.50,262.55 L170.15,263.51 L170.80,264.55 L171.45,265.67 L172.10,266.88 L172.75,268.19 L173.40,269.58 L174.05,271.07 L174.70,272.66 L175.35,274.35 L176.01,276.14 L176.66,278.03 L177.31,280.01 L177.96,282.09 L178.61,284.26 L179.26,286.51 L179.91,288.84 L180.56,291.24 L181.21,293.69 L181.86,296.20 L182.51,298.74 L183.16,301.30 L183.81,303.88 L184.47,306.46 L185.12,309.02 L185.77,311.55 L186.42,314.04 L187.07,316.49 L187.72,318.87 L188.37,321.18 L189.02,323.41 L189.67,325.56 L190.32,327.62 L190.97,329.58 L191.62,331.45 L192.27,333.21 L192.93,334.88 L193.58,336.45 L194.23,337.92 L194.88,339.29 L195.53,340.57 L196.18,341.76 L196.83,342.87 L197.48,343.89 L198.13,344.83 L198.78,345.71 L199.43,346.51 L200.08,347.25 L200.73,347.92 L201.38,348.54 L202.04,349.11 L202.69,349.63 L203.34,350.11 L203.99,350.54 L204.64,350.93 L205.29,351.29 L205.94,351.62 L206.59,351.92 L207.24,352.19 L207.89,352.44 L208.54,352.66 L209.19,352.87 L209.84,353.05 L210.50,353.22 L211.15,353.37 L211.80,353.51 L212.45,353.63 L213.10,353.75 L213.75,353.85 L214.40,353.94" stroke="#f2057f" stroke-width="1.0" fill="none" />
<circle cx="79.40" cy="252.30" r="2.4" fill="#000"/>
<circle cx="97.90" cy="263.80" r="2.4" fill="#000"/>
<circle cx="116.30" cy="252.30" r="2.4" fill="#000"/>
<circle cx="135.00" cy="252.60" r="2.4" fill="#000"/>
<circle cx="153.40" cy="254.10" r="2.4" fill="#000"/>
<circle cx="172.10" cy="252.30" r="2.4" fill="#000"/>
<circle cx="190.40" cy="252.30" r="2.4" fill="#000"/>
<circle cx="209.10" cy="255.70" r="2.4" fill="#000"/>
<circle cx="84.90" cy="249.80" r="2.4" fill="#f2057f"/>
<circle cx="103.10" cy="252.60" r="2.4" fill="#f2057f"/>
<circle cx="121.80" cy="252.90" r="2.4" fill="#f2057f"/>
<circle cx="140.10" cy="253.40" r="2.4" fill="#f2057f"/>
<circle cx="158.80" cy="255.40" r="2.4" fill="#f2057f"/>
<circle cx="177.50" cy="280.40" r="2.4" fill="#f2057f"/>
<circle cx="195.70" cy="341.10" r="2.4" fill="#f2057f"/>
<circle cx="214.40" cy="353.80" r="2.4" fill="#f2057f"/>
<line x1="60.00" y1="248.80" x2="64.60" y2="253.40" stroke="#000" stroke-width="1.3" />
<line x1="60.00" y1="253.40" x2="64.60" y2="248.80" stroke="#000" stroke-width="1.3" />
<line x1="255.00" y1="248.80" x2="267.00" y2="248.80" stroke="#f2057f" stroke-width="1.0" />
<circle cx="261.10" cy="248.80" r="2.4" fill="#f2057f"/>
<line x1="255.00" y1="264.40" x2="267.00" y2="264.40" stroke="#555" stroke-width="1.1" />
<circle cx="261.10" cy="264.40" r="2.4" fill="#000"/>
<line x1="258.80" y1="277.20" x2="263.40" y2="281.80" stroke="#000" stroke-width="1.3" />
<line x1="258.80" y1="281.80" x2="263.40" y2="277.20" stroke="#000" stroke-width="1.3" />
<text x="274.20" y="252.15" font-size="9.35" text-anchor="start" >AFM28</text>
<text x="274.20" y="267.75" font-size="9.35" text-anchor="start" >RSV/CD16A</text>
<text x="274.20" y="282.85" font-size="9.35" text-anchor="start" >w/o antibody</text>
<text x="0" y="0" font-size="19.2" transform="translate(350.8,205.2) scale(0.95,1)" stroke="#000" stroke-width="0.5">D</text>
<text x="491.80" y="226.20" font-size="11" text-anchor="middle" >STAT6</text>
<line x1="397.60" y1="240.90" x2="397.60" y2="354.90" stroke="#000" stroke-width="1.8" />
<line x1="396.70" y1="354.00" x2="583.10" y2="354.00" stroke="#000" stroke-width="1.8" />
<line x1="392.40" y1="354.00" x2="397.60" y2="354.00" stroke="#000" stroke-width="1.4" />
<text x="391.10" y="357.21" font-size="8.4" text-anchor="end" >0</text>
<line x1="392.40" y1="331.41" x2="397.60" y2="331.41" stroke="#000" stroke-width="1.4" />
<text x="391.10" y="334.58" font-size="8.4" text-anchor="end" >20</text>
<line x1="392.40" y1="308.82" x2="397.60" y2="308.82" stroke="#000" stroke-width="1.4" />
<text x="391.10" y="311.95" font-size="8.4" text-anchor="end" >40</text>
<line x1="392.40" y1="286.23" x2="397.60" y2="286.23" stroke="#000" stroke-width="1.4" />
<text x="391.10" y="289.32" font-size="8.4" text-anchor="end" >60</text>
<line x1="392.40" y1="263.64" x2="397.60" y2="263.64" stroke="#000" stroke-width="1.4" />
<text x="391.10" y="266.69" font-size="8.4" text-anchor="end" >80</text>
<line x1="392.40" y1="241.05" x2="397.60" y2="241.05" stroke="#000" stroke-width="1.4" />
<text x="391.10" y="244.06" font-size="8.4" text-anchor="end" >100</text>
<line x1="416.00" y1="354.00" x2="416.00" y2="359.10" stroke="#000" stroke-width="1.4" />
<text x="416.00" y="369.00" font-size="8.4" text-anchor="middle" >ctrl</text>
<line x1="434.40" y1="354.00" x2="434.40" y2="359.10" stroke="#000" stroke-width="1.4" />
<text x="434.40" y="369.00" font-size="8.4" text-anchor="middle">10<tspan font-size="5.8" dx="0.8" dy="-1.76">-6</tspan></text>
<line x1="471.50" y1="354.00" x2="471.50" y2="359.10" stroke="#000" stroke-width="1.4" />
<text x="471.50" y="369.00" font-size="8.4" text-anchor="middle">10<tspan font-size="5.8" dx="0.8" dy="-1.76">-4</tspan></text>
<line x1="508.40" y1="354.00" x2="508.40" y2="359.10" stroke="#000" stroke-width="1.4" />
<text x="508.40" y="369.00" font-size="8.4" text-anchor="middle">10<tspan font-size="5.8" dx="0.8" dy="-1.76">-2</tspan></text>
<line x1="545.40" y1="354.00" x2="545.40" y2="359.10" stroke="#000" stroke-width="1.4" />
<text x="545.40" y="369.00" font-size="8.4" text-anchor="middle">10<tspan font-size="5.8" dx="0.8" dy="-1.76">0</tspan></text>
<line x1="582.40" y1="354.00" x2="582.40" y2="359.10" stroke="#000" stroke-width="1.4" />
<text x="582.40" y="369.00" font-size="8.4" text-anchor="middle">10<tspan font-size="5.8" dx="0.8" dy="-1.76">2</tspan></text>
<text x="0" y="0" font-size="9.2" text-anchor="middle" transform="translate(372.9,296.7) rotate(-90)">% pSTAT6<tspan font-size="7.0" dx="0.4" dy="-3.0">+</tspan><tspan dx="0.2" dy="3.0"> TF-1 cells</tspan></text>
<text x="490.20" y="382.67" font-size="9.4" text-anchor="middle" >Antibody concentration (pM)</text>
<path d="M433.0,255.4 L562.4,257.1" stroke="#444" stroke-width="1.0" fill="none" />
<path d="M438.3,254.7 L520,255.1 C535,255.4 540,256.6 549,256.9 L567.9,257.3" stroke="#f2057f" stroke-width="1.0" fill="none" />
<circle cx="433.00" cy="253.80" r="2.4" fill="#000"/>
<circle cx="451.40" cy="254.90" r="2.4" fill="#000"/>
<circle cx="470.10" cy="254.50" r="2.4" fill="#000"/>
<circle cx="488.50" cy="254.90" r="2.4" fill="#000"/>
<circle cx="507.10" cy="257.30" r="2.4" fill="#000"/>
<circle cx="525.50" cy="256.90" r="2.4" fill="#000"/>
<circle cx="544.00" cy="256.80" r="2.4" fill="#000"/>
<circle cx="562.40" cy="255.70" r="2.4" fill="#000"/>
<circle cx="438.30" cy="254.90" r="2.4" fill="#f2057f"/>
<circle cx="456.90" cy="254.90" r="2.4" fill="#f2057f"/>
<circle cx="475.40" cy="254.90" r="2.4" fill="#f2057f"/>
<circle cx="493.90" cy="254.90" r="2.4" fill="#f2057f"/>
<circle cx="512.60" cy="255.20" r="2.4" fill="#f2057f"/>
<circle cx="530.80" cy="255.20" r="2.4" fill="#f2057f"/>
<circle cx="549.20" cy="256.80" r="2.4" fill="#f2057f"/>
<circle cx="567.90" cy="257.30" r="2.4" fill="#f2057f"/>
<line x1="413.60" y1="252.60" x2="418.20" y2="257.20" stroke="#000" stroke-width="1.3" />
<line x1="413.60" y1="257.20" x2="418.20" y2="252.60" stroke="#000" stroke-width="1.3" />
<line x1="608.10" y1="248.70" x2="620.50" y2="248.70" stroke="#f2057f" stroke-width="1.0" />
<circle cx="614.30" cy="248.70" r="2.4" fill="#f2057f"/>
<line x1="608.10" y1="264.00" x2="620.50" y2="264.00" stroke="#666" stroke-width="1.1" />
<circle cx="614.30" cy="264.00" r="2.4" fill="#000"/>
<line x1="612.00" y1="277.20" x2="616.60" y2="281.80" stroke="#000" stroke-width="1.3" />
<line x1="612.00" y1="281.80" x2="616.60" y2="277.20" stroke="#000" stroke-width="1.3" />
<text x="627.80" y="252.05" font-size="9.35" text-anchor="start" >AFM28</text>
<text x="627.80" y="267.35" font-size="9.35" text-anchor="start" >RSV/CD16A</text>
<text x="627.80" y="282.85" font-size="9.35" text-anchor="start" >w/o antibody</text>
<ellipse cx="38.8" cy="369.3" rx="0.9" ry="0.8" fill="#ececec"/><ellipse cx="43.1" cy="369.4" rx="1.2" ry="0.7" fill="#c4c4c4"/>
</svg>
</body></html>
